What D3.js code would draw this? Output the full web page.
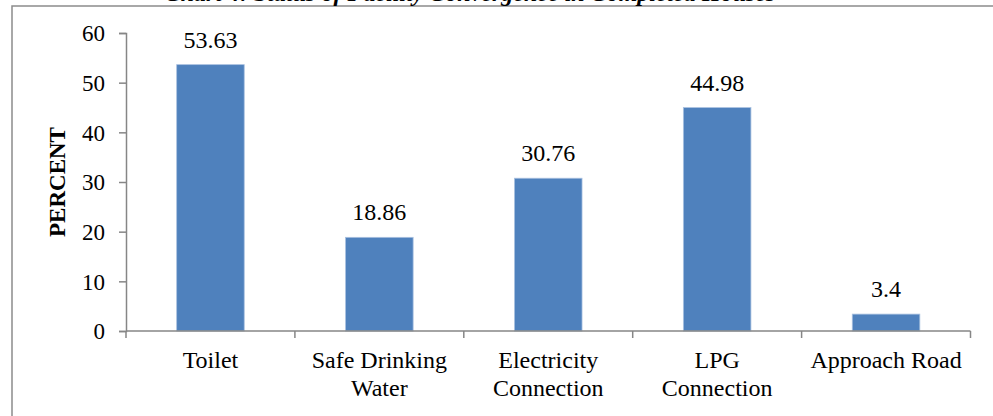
<!DOCTYPE html>
<html>
<head>
<meta charset="utf-8">
<script src="https://cdn.jsdelivr.net/npm/d3@7"></script>
<style>
  html, body { margin: 0; padding: 0; background: #fff; }
  svg { display: block; }
</style>
</head>
<body>
<svg id="chart" width="993" height="416"></svg>
<script>
// Facility status in completed houses (percent)
const categories = [["Toilet"], ["Safe Drinking", "Water"], ["Electricity", "Connection"], ["LPG", "Connection"], ["Approach Road"]];
const values = [53.63, 18.86, 30.76, 44.98, 3.4];
const valueLabels = ["53.63", "18.86", "30.76", "44.98", "3.4"];
const yTicks = [0, 10, 20, 30, 40, 50, 60];
const titleText = "Chart 4: Status of Facility Convergence in Completed Houses";
const yTitle = "PERCENT";

const SERIF = '"Liberation Serif", "Times New Roman", "DejaVu Serif", serif';
const svg = d3.select("#chart").style("font-family", SERIF);
const W = 993, H = 416;
const plot = { left: 126, right: 970.5, top: 33, bottom: 331 };
const axisColor = "#868686";

// outer frame (top and left edges)
svg.append("path")
  .attr("d", `M12,${H} L12,6 L${W},6`)
  .attr("fill", "none")
  .attr("stroke", "#8c8c8c")
  .attr("stroke-width", 1.5);

// chart title (sits above the frame edge)
svg.append("text")
  .attr("x", 470).attr("y", 1)
  .attr("text-anchor", "middle")
  .style("font-family", SERIF)
  .style("font-size", "24px")
  .style("font-weight", "bold")
  .style("font-style", "italic")
  .text(titleText);

const keys = categories.map((c, i) => i);
const x = d3.scaleBand().domain(keys).range([plot.left, plot.right]).padding(0);
const y = d3.scaleLinear().domain([0, 60]).range([plot.bottom, plot.top]);

const barW = x.bandwidth() * 0.4;

// bars
svg.append("g").selectAll("rect")
  .data(values)
  .join("rect")
  .attr("x", (d, i) => x(i) + (x.bandwidth() - barW) / 2)
  .attr("y", d => y(d))
  .attr("width", barW)
  .attr("height", d => y(0) - y(d))
  .attr("fill", "#4f81bd")
  .attr("stroke", "#a9c1e0")
  .attr("stroke-width", 0.8);

// value labels
svg.append("g").selectAll("text")
  .data(values)
  .join("text")
  .attr("x", (d, i) => x(i) + x.bandwidth() / 2)
  .attr("y", d => y(d) - 17)
  .attr("text-anchor", "middle")
  .style("font-family", SERIF)
  .style("font-size", "24px")
  .attr("fill", "#000")
  .text((d, i) => valueLabels[i]);

// y axis
const yAxis = svg.append("g")
  .attr("transform", `translate(${plot.left},0)`)
  .call(d3.axisLeft(y).tickValues(yTicks).tickSize(7).tickPadding(14).tickFormat(d3.format("d")));
yAxis.attr("font-family", null);
yAxis.select(".domain").attr("stroke", axisColor).attr("stroke-width", 1.5);
yAxis.selectAll(".tick line").attr("stroke", axisColor).attr("stroke-width", 1.5);
yAxis.selectAll(".tick text")
  .style("font-family", SERIF)
  .style("font-size", "23px")
  .attr("fill", "#000")
  .attr("dy", "0.34em");

// x axis: baseline with ticks at band boundaries
const xg = svg.append("g");
xg.append("line")
  .attr("x1", plot.left).attr("x2", plot.right)
  .attr("y1", y(0)).attr("y2", y(0))
  .attr("stroke", axisColor).attr("stroke-width", 1.5);
const bounds = keys.map(k => x(k)).concat([x(keys[keys.length - 1]) + x.bandwidth()]);
xg.selectAll("line.tk")
  .data(bounds)
  .join("line")
  .attr("class", "tk")
  .attr("x1", d => d).attr("x2", d => d)
  .attr("y1", y(0)).attr("y2", y(0) + 7)
  .attr("stroke", axisColor).attr("stroke-width", 1.5);

// category labels (multi-line)
const cat = svg.append("g").selectAll("text")
  .data(categories)
  .join("text")
  .attr("x", (d, i) => x(i) + x.bandwidth() / 2)
  .attr("y", 368)
  .attr("text-anchor", "middle")
  .style("font-family", SERIF)
  .style("font-size", "24px")
  .attr("fill", "#000");
cat.selectAll("tspan")
  .data(d => d)
  .join("tspan")
  .attr("x", function () { return d3.select(this.parentNode).attr("x"); })
  .attr("dy", (d, i) => i === 0 ? 0 : 28)
  .text(d => d);

// y axis title
svg.append("text")
  .attr("transform", "translate(65,182) rotate(-90)")
  .attr("text-anchor", "middle")
  .style("font-family", SERIF)
  .style("font-size", "23px")
  .style("font-weight", "bold")
  .attr("fill", "#000")
  .text(yTitle);
</script>
</body>
</html>
